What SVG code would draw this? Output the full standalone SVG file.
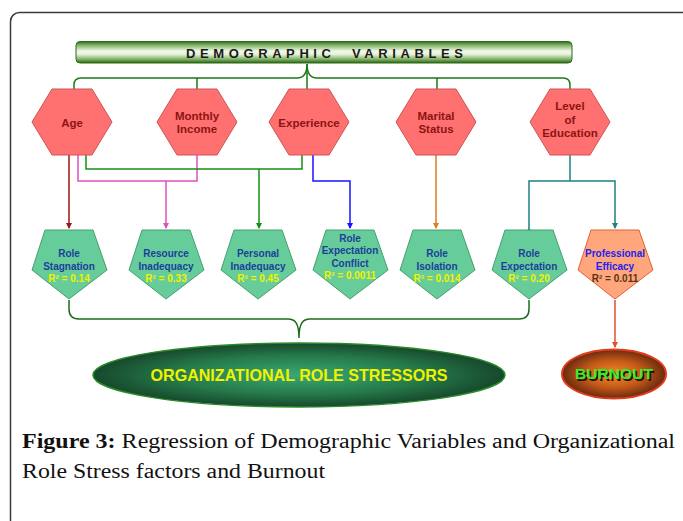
<svg xmlns="http://www.w3.org/2000/svg" width="683" height="521" viewBox="0 0 683 521">
<defs>
<linearGradient id="gBanner" x1="0" y1="0" x2="0" y2="1">
<stop offset="0" stop-color="#2f6e1c"/>
<stop offset="0.18" stop-color="#86b46a"/>
<stop offset="0.45" stop-color="#f2f9ea"/>
<stop offset="0.6" stop-color="#e4f1da"/>
<stop offset="0.85" stop-color="#76a856"/>
<stop offset="1" stop-color="#2a6418"/>
</linearGradient>
<radialGradient id="gOrs" cx="0.5" cy="0.5" r="0.5">
<stop offset="0" stop-color="#3aa874"/>
<stop offset="0.6" stop-color="#257a4a"/>
<stop offset="1" stop-color="#17482c"/>
</radialGradient>
<radialGradient id="gBurn" cx="0.5" cy="0.5" r="0.5">
<stop offset="0" stop-color="#f58a2a"/>
<stop offset="0.55" stop-color="#c55a18"/>
<stop offset="1" stop-color="#6a2a10"/>
</radialGradient>
<marker id="aRed" viewBox="0 0 6 6" refX="5" refY="3" markerWidth="6" markerHeight="6" markerUnits="userSpaceOnUse" orient="auto"><path d="M0,0 L6,3 L0,6 z" fill="#a01414"/></marker>
<marker id="aPink" viewBox="0 0 6 6" refX="5" refY="3" markerWidth="6" markerHeight="6" markerUnits="userSpaceOnUse" orient="auto"><path d="M0,0 L6,3 L0,6 z" fill="#e050c0"/></marker>
<marker id="aGreen" viewBox="0 0 6 6" refX="5" refY="3" markerWidth="6" markerHeight="6" markerUnits="userSpaceOnUse" orient="auto"><path d="M0,0 L6,3 L0,6 z" fill="#139013"/></marker>
<marker id="aBlue" viewBox="0 0 6 6" refX="5" refY="3" markerWidth="6" markerHeight="6" markerUnits="userSpaceOnUse" orient="auto"><path d="M0,0 L6,3 L0,6 z" fill="#1414ff"/></marker>
<marker id="aOrange" viewBox="0 0 6 6" refX="5" refY="3" markerWidth="6" markerHeight="6" markerUnits="userSpaceOnUse" orient="auto"><path d="M0,0 L6,3 L0,6 z" fill="#e07a22"/></marker>
<marker id="aTeal" viewBox="0 0 6 6" refX="5" refY="3" markerWidth="6" markerHeight="6" markerUnits="userSpaceOnUse" orient="auto"><path d="M0,0 L6,3 L0,6 z" fill="#1f8080"/></marker>
<marker id="aBurn" viewBox="0 0 6 6" refX="5" refY="3" markerWidth="6" markerHeight="6" markerUnits="userSpaceOnUse" orient="auto"><path d="M0,0 L6,3 L0,6 z" fill="#e0502a"/></marker>
</defs>
<style>
.hex{fill:#ff7070;stroke:#cc5555;stroke-width:1}
.pent{fill:#66cc99;stroke:#47a06e;stroke-width:1}
.pentO{fill:#ffa67c;stroke:#e8602e;stroke-width:1}
.ht{font-family:"Liberation Sans",Arial,sans-serif;font-weight:bold;font-size:11.5px;fill:#8c1414;text-anchor:middle}
.pt{font-family:"Liberation Sans",Arial,sans-serif;font-weight:bold;font-size:10px;fill:#1d3f9c;text-anchor:middle}
.rt{fill:#f2f200}
.c{fill:none;stroke-width:1.5}
.cap{font-family:"Liberation Serif","Times New Roman",serif;font-size:20.5px;fill:#111}
</style>
<rect x="10.5" y="12.5" width="700" height="560" rx="9" fill="#fff" stroke="#3a3a3a" stroke-width="1.5"/>

<g id="banner">
<rect x="76" y="41.5" width="496" height="21.5" rx="4" fill="url(#gBanner)" stroke="#2a6a1a" stroke-width="1"/>
<text x="186" y="57.5" textLength="277" lengthAdjust="spacing" font-family="Liberation Sans, Arial, sans-serif" font-weight="bold" font-size="13" fill="#1a1a1a" xml:space="preserve">DEMOGRAPHIC  VARIABLES</text>
</g>

<g id="connectors">
<path class="c" stroke="#1a7a1a" d="M74,89 V85 Q74,78 81,78 H297 C303,78 307,74 307,64 C307,74 311,78 317,78 H563 Q570,78 570,85 V89"/>
<path class="c" stroke="#1a7a1a" d="M307,64 V89 M197,78 V89 M437,78 V89"/>
<path class="c" stroke="#a01414" d="M69,155 V228" marker-end="url(#aRed)"/>
<path class="c" stroke="#e050c0" d="M78,155 V181 H197 V155"/>
<path class="c" stroke="#e050c0" d="M166,181 V228" marker-end="url(#aPink)"/>
<path class="c" stroke="#139013" d="M86,155 V169 H302 V155"/>
<path class="c" stroke="#139013" d="M259,169 V228" marker-end="url(#aGreen)"/>
<path class="c" stroke="#1414ff" d="M313,155 V181 H350 V228" marker-end="url(#aBlue)"/>
<path class="c" stroke="#e07a22" d="M436,155 V228" marker-end="url(#aOrange)"/>
<path class="c" stroke="#1f8080" d="M570,155 V181"/>
<path class="c" stroke="#1f8080" d="M529,228 V181 H615 V228" marker-start="url(#aTeal)" marker-end="url(#aTeal)"/>
<path class="c" stroke="#1a6e1a" stroke-width="2" d="M69,300 V309 Q69,319 79,319 H288 C295,319 299,323 299,338 C299,323 303,319 310,319 H519 Q529,319 529,309 V300"/>
<path class="c" stroke="#e0502a" stroke-width="2" d="M615,300 V347" marker-end="url(#aBurn)"/>
</g>

<g id="age"><polygon class="hex" points="32,122 52,89 92,89 112,122 92,155 52,155"/><text class="ht" x="72" y="126.5">Age</text></g>
<g id="monthly-income"><polygon class="hex" points="157,122 177,89 217,89 237,122 217,155 177,155"/><text class="ht" x="197" y="119.5">Monthly</text><text class="ht" x="197" y="133">Income</text></g>
<g id="experience"><polygon class="hex" points="269,122 289,89 329,89 349,122 329,155 289,155"/><text class="ht" x="309" y="126.5">Experience</text></g>
<g id="marital-status"><polygon class="hex" points="396,122 416,89 456,89 476,122 456,155 416,155"/><text class="ht" x="436" y="119.5">Marital</text><text class="ht" x="436" y="133">Status</text></g>
<g id="level-of-education"><polygon class="hex" points="530,122 550,89 590,89 610,122 590,155 550,155"/><text class="ht" x="570" y="110">Level</text><text class="ht" x="570" y="123.5">of</text><text class="ht" x="570" y="137">Education</text></g>

<g id="role-stagnation"><polygon class="pent" points="45,230 93,230 107,270 69,299 32,270"/><text class="pt" x="69" y="257">Role</text><text class="pt" x="69" y="269.5">Stagnation</text><text class="pt rt" x="69" y="282">R² = 0.14</text></g>
<g id="resource-inadequacy"><polygon class="pent" points="142,230 190,230 204,270 166,299 129,270"/><text class="pt" x="166" y="257">Resource</text><text class="pt" x="166" y="269.5">Inadequacy</text><text class="pt rt" x="166" y="282">R² = 0.33</text></g>
<g id="personal-inadequacy"><polygon class="pent" points="234,230 282,230 296,270 258,299 221,270"/><text class="pt" x="258" y="257">Personal</text><text class="pt" x="258" y="269.5">Inadequacy</text><text class="pt rt" x="258" y="282">R² = 0.45</text></g>
<g id="role-expectation-conflict"><polygon class="pent" points="326,230 374,230 388,270 350,299 313,270"/><text class="pt" x="350" y="241.5">Role</text><text class="pt" x="350" y="254">Expectation</text><text class="pt" x="350" y="266.5">Conflict</text><text class="pt rt" x="350" y="279">R² = 0.0011</text></g>
<g id="role-isolation"><polygon class="pent" points="413,230 461,230 475,270 437,299 400,270"/><text class="pt" x="437" y="257">Role</text><text class="pt" x="437" y="269.5">Isolation</text><text class="pt rt" x="437" y="282">R² = 0.014</text></g>
<g id="role-expectation"><polygon class="pent" points="505,230 553,230 567,270 529,299 492,270"/><text class="pt" x="529" y="257">Role</text><text class="pt" x="529" y="269.5">Expectation</text><text class="pt rt" x="529" y="282">R² = 0.20</text></g>
<g id="professional-efficacy"><polygon class="pentO" points="591,230 639,230 653,270 615,299 578,270"/><text class="pt" x="615" y="257" style="fill:#2222ee">Professional</text><text class="pt" x="615" y="269.5" style="fill:#2222ee">Efficacy</text><text class="pt" x="615" y="282" style="fill:#5a3414">R² = 0.011</text></g>

<g id="organizational-role-stressors">
<ellipse cx="299" cy="375" rx="206" ry="32" fill="url(#gOrs)" stroke="#2a8a2a" stroke-width="1.5"/>
<text x="299" y="381" text-anchor="middle" textLength="297" lengthAdjust="spacingAndGlyphs" font-family="Liberation Sans, Arial, sans-serif" font-weight="bold" font-size="16.5" fill="#f2f200">ORGANIZATIONAL ROLE STRESSORS</text>
</g>
<g id="burnout">
<ellipse cx="614" cy="374" rx="52" ry="24.5" fill="url(#gBurn)" stroke="#e03c1c" stroke-width="2"/>
<text x="615.5" y="380.5" text-anchor="middle" font-family="Liberation Sans, Arial, sans-serif" font-weight="bold" font-size="15" fill="#2a1000" textLength="78" lengthAdjust="spacingAndGlyphs">BURNOUT</text>
<text x="614" y="379" text-anchor="middle" font-family="Liberation Sans, Arial, sans-serif" font-weight="bold" font-size="15" fill="#2ef02e" textLength="78" lengthAdjust="spacingAndGlyphs">BURNOUT</text>
</g>

<g id="caption">
<text class="cap" x="22" y="448" textLength="653" lengthAdjust="spacingAndGlyphs"><tspan font-weight="bold">Figure 3:</tspan> Regression of Demographic Variables and Organizational</text>
<text class="cap" x="22" y="478" textLength="303" lengthAdjust="spacingAndGlyphs">Role Stress factors and Burnout</text>
</g>
</svg>
